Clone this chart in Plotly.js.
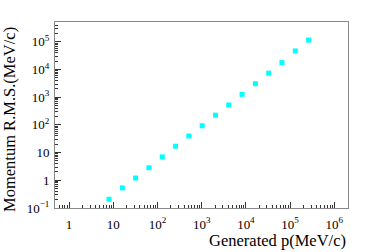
<!DOCTYPE html>
<html>
<head>
<meta charset="utf-8">
<script src="https://cdn.plot.ly/plotly-3.0.1.min.js"></script>
<style>html,body{margin:0;padding:0;background:#fff;}#plot{width:374px;height:252px;}</style>
</head>
<body>
<div id="plot"></div>
<script>
// Generated momentum (MeV/c)
var generatedP = [8, 16, 32, 64, 128, 256, 512, 1024, 2048, 4096, 8192, 16384, 32768, 65536, 131072, 262144];
// Momentum R.M.S. (MeV/c)
var momentumRMS = [0.206, 0.53, 1.21, 2.83, 7.0, 17.0, 39.8, 93.1, 225, 528, 1277, 3090, 7410, 17900, 47200, 117000];

var xTickVals = [1, 10, 100, 1e3, 1e4, 1e5, 1e6];
var xTickText = ['1', '10', '10<sup>2</sup>', '10<sup>3</sup>', '10<sup>4</sup>', '10<sup>5</sup>', '10<sup>6</sup>'];
var yTickVals = [0.1, 1, 10, 100, 1e3, 1e4, 1e5];
var yTickText = ['10<sup>\u22121</sup>', '1', '10', '10<sup>2</sup>', '10<sup>3</sup>', '10<sup>4</sup>', '10<sup>5</sup>'];

var xTitle = 'Generated p(MeV/c)';
var yTitle = 'Momentum R.M.S.(MeV/c)';

function minorTicks(lo, hi) {
  var out = [];
  for (var e = lo; e <= hi; e++) {
    for (var k = 2; k <= 9; k++) out.push(k * Math.pow(10, e));
  }
  return out;
}

var font = 'Liberation Serif, Times New Roman, serif';

var trace = {
  x: generatedP,
  y: momentumRMS,
  type: 'scatter',
  mode: 'markers',
  marker: {symbol: 'square', size: 5, color: '#00ffff'},
  showlegend: false,
  cliponaxis: false
};

var axisCommon = {
  type: 'log',
  showgrid: false,
  zeroline: false,
  showline: true,
  linecolor: '#888888',
  linewidth: 1,
  mirror: true,
  ticks: 'inside',
  ticklen: 6,
  tickwidth: 1,
  tickcolor: '#333333',
  tickmode: 'array',
  tickfont: {family: font, size: 13, color: '#000'}
};

var layout = {
  width: 374,
  height: 252,
  margin: {l: 55, r: 26, t: 22, b: 44},
  paper_bgcolor: '#ffffff',
  plot_bgcolor: '#ffffff',
  font: {family: font, color: '#000'},
  xaxis: Object.assign({}, axisCommon, {
    range: [-0.319, 6.31],
    tickvals: xTickVals,
    ticktext: xTickText,
    ticklabelstandoff: 4,
    minor: {tickmode: 'array', tickvals: minorTicks(-1, 6), ticks: 'inside', ticklen: 3, tickcolor: '#333333'}
  }),
  yaxis: Object.assign({}, axisCommon, {
    range: [-1.002, 5.72],
    tickvals: yTickVals,
    ticktext: yTickText,
    ticklabelstandoff: 2,
    minor: {tickmode: 'array', tickvals: minorTicks(-1, 5), ticks: 'inside', ticklen: 3, tickcolor: '#333333'}
  }),
  annotations: [
    {text: xTitle, xref: 'paper', yref: 'paper', x: 1, y: 0, xanchor: 'right', yanchor: 'top', yshift: -21,
     showarrow: false, font: {family: font, size: 16.5, color: '#000'}},
    {text: yTitle, xref: 'paper', yref: 'paper', x: 0, y: 1, xanchor: 'right', yanchor: 'top', xshift: -34, yshift: -3,
     textangle: -90, showarrow: false, font: {family: font, size: 16.5, color: '#000'}}
  ]
};

Plotly.newPlot('plot', [trace], layout, {displayModeBar: false, staticPlot: true});
</script>
</body>
</html>
